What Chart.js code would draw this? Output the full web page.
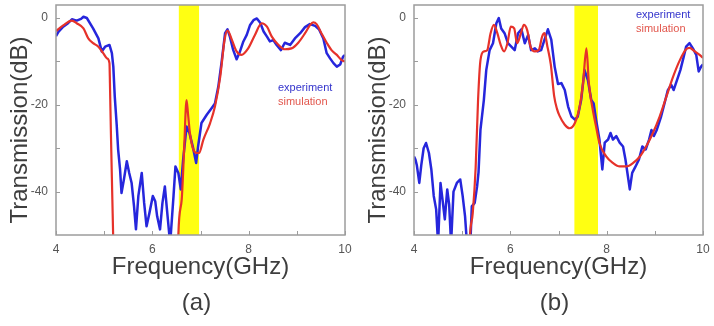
<!DOCTYPE html>
<html>
<head>
<meta charset="utf-8">
<script src="https://cdn.jsdelivr.net/npm/chart.js@4.4.1/dist/chart.umd.min.js"></script>
<style>
  html, body { margin: 0; padding: 0; background: #fff; }
  .panel { position: absolute; top: 0; width: 357px; height: 326px; }
</style>
</head>
<body>
<div class="panel" style="left:0"><canvas id="chartA" width="357" height="326"></canvas></div>
<div class="panel" style="left:357px"><canvas id="chartB" width="357" height="326"></canvas></div>
<script>
// axis ticks
const xTicks = [4, 6, 8, 10];
const xMinor = [5, 7, 9];
const yTicks = [0, -20, -40];
const yMinor = [-10, -30];
const xTitle = 'Frequency(GHz)';
const yTitle = 'Transmission(dB)';

// panel (a)
const aBand = [6.55, 6.97];
const aExpF = [4.0, 4.05, 4.15, 4.25, 4.33, 4.43, 4.52, 4.57, 4.64, 4.77, 4.88, 4.95, 5.02, 5.11, 5.16, 5.19, 5.22, 5.26, 5.29, 5.33, 5.36, 5.41, 5.47, 5.52, 5.57, 5.62, 5.66, 5.71, 5.78, 5.83, 5.88, 5.94, 6.01, 6.06, 6.10, 6.16, 6.21, 6.26, 6.31, 6.37, 6.44, 6.48, 6.54, 6.59, 6.64, 6.71, 6.77, 6.84, 6.91, 6.95, 7.02, 7.13, 7.23, 7.30, 7.37, 7.44, 7.51, 7.56, 7.61, 7.68, 7.75, 7.82, 7.89, 7.96, 8.03, 8.10, 8.17, 8.24, 8.31, 8.38, 8.44, 8.51, 8.58, 8.67, 8.75, 8.86, 8.96, 9.07, 9.17, 9.27, 9.38, 9.46, 9.55, 9.62, 9.69, 9.76, 9.83, 9.90, 9.96, 10.0];
const aExpT = [-4.2, -3.2, -2.0, -1.2, -0.3, -0.6, -0.2, 0.3, 0.0, -2.4, -4.7, -7.7, -6.6, -6.2, -8.1, -11.2, -18.1, -24.6, -30.3, -34.9, -40.3, -37.2, -33.0, -35.7, -38.0, -43.4, -48.7, -41.0, -35.7, -42.6, -48.0, -44.9, -41.0, -42.2, -45.7, -48.7, -42.6, -38.8, -44.9, -52, -41.0, -34.2, -35.7, -39.5, -32.6, -25.0, -26.5, -29.6, -33.4, -29.6, -24.2, -22.3, -20.8, -19.7, -15.8, -10.0, -3.5, -2.6, -4.3, -7.4, -9.5, -7.7, -5.4, -3.9, -1.6, -0.5, -0.1, -1.1, -3.1, -4.3, -5.4, -5.1, -6.2, -7.4, -5.7, -6.2, -4.7, -3.5, -2.1, -1.4, -1.8, -2.6, -4.7, -8.1, -9.3, -10.4, -11.2, -10.7, -8.9, -8.5];
const aSimF = [4.0, 4.15, 4.33, 4.43, 4.57, 4.67, 4.77, 4.88, 4.98, 5.06, 5.11, 5.12, 5.14, 5.17, 5.19, 5.22, 6.51, 6.54, 6.61, 6.66, 6.71, 6.74, 6.78, 6.85, 6.92, 6.97, 7.06, 7.20, 7.30, 7.41, 7.50, 7.56, 7.65, 7.75, 7.85, 7.99, 8.13, 8.27, 8.38, 8.48, 8.62, 8.75, 8.89, 9.03, 9.17, 9.27, 9.34, 9.41, 9.51, 9.62, 9.72, 9.83, 9.93, 10.0];
const aSimT = [-3.0, -1.7, -0.6, -1.2, -2.4, -4.7, -5.8, -6.6, -8.1, -9.3, -10.4, -15.0, -26.5, -41.8, -52, -70, -70, -50, -41.8, -30.3, -18.9, -22.0, -26.5, -30.3, -31.1, -31.1, -28.0, -24.2, -20.4, -13.5, -5.0, -2.9, -5.0, -7.7, -8.5, -7.0, -3.9, -1.2, -2.0, -4.3, -6.2, -7.2, -7.0, -5.7, -3.5, -1.7, -1.0, -1.4, -3.5, -5.7, -7.4, -8.5, -9.7, -10.0];

// panel (b)
const bBand = [7.33, 7.82];
const bExpF = [4.0, 4.03, 4.06, 4.11, 4.15, 4.20, 4.25, 4.31, 4.36, 4.41, 4.46, 4.50, 4.55, 4.60, 4.64, 4.69, 4.73, 4.77, 4.82, 4.89, 4.96, 5.01, 5.06, 5.10, 5.17, 5.20, 5.26, 5.31, 5.34, 5.38, 5.45, 5.50, 5.57, 5.64, 5.71, 5.76, 5.81, 5.88, 5.95, 6.02, 6.09, 6.16, 6.23, 6.30, 6.37, 6.43, 6.51, 6.57, 6.64, 6.71, 6.78, 6.85, 6.92, 6.99, 7.06, 7.13, 7.20, 7.27, 7.34, 7.40, 7.47, 7.54, 7.61, 7.68, 7.73, 7.78, 7.85, 7.91, 7.96, 8.03, 8.08, 8.13, 8.20, 8.27, 8.34, 8.39, 8.44, 8.48, 8.53, 8.60, 8.67, 8.74, 8.81, 8.88, 8.93, 8.98, 9.04, 9.13, 9.20, 9.27, 9.34, 9.39, 9.46, 9.53, 9.60, 9.65, 9.72, 9.79, 9.86, 9.91, 9.96, 10.0];
const bExpT = [-31.9, -32.6, -34.0, -38.0, -34.0, -30.0, -28.8, -31.1, -34.9, -41.0, -44.1, -52, -38.0, -42.6, -46.4, -39.5, -43.0, -52, -40.0, -38.0, -37.2, -41.0, -45.7, -52, -52, -43.4, -42.6, -38.8, -35.5, -25.7, -18.9, -12.0, -7.4, -5.8, -1.2, 0.0, -2.4, -3.5, -5.8, -6.6, -7.4, -3.5, -2.6, -5.8, -3.9, -7.4, -7.0, -7.7, -7.4, -5.0, -2.6, -5.0, -11.2, -15.2, -15.0, -16.6, -20.4, -22.7, -23.4, -22.7, -18.9, -12.0, -14.3, -18.9, -19.7, -23.4, -28.0, -34.9, -28.7, -28.0, -26.5, -28.0, -27.2, -28.7, -29.6, -32.6, -36.4, -39.5, -35.7, -34.2, -32.6, -29.6, -30.3, -28.0, -25.8, -27.2, -25.8, -22.7, -19.7, -16.6, -15.4, -16.6, -14.3, -12.0, -8.9, -6.6, -5.8, -7.0, -8.5, -12.3, -11.2, -10.7];
const bSimF = [5.10, 5.16, 5.22, 5.28, 5.33, 5.38, 5.45, 5.52, 5.59, 5.66, 5.73, 5.80, 5.87, 5.94, 6.01, 6.08, 6.14, 6.22, 6.28, 6.35, 6.42, 6.51, 6.59, 6.66, 6.71, 6.77, 6.84, 6.91, 6.97, 7.02, 7.13, 7.23, 7.34, 7.44, 7.51, 7.58, 7.63, 7.70, 7.78, 7.85, 7.99, 8.13, 8.27, 8.41, 8.55, 8.69, 8.82, 8.96, 9.10, 9.24, 9.38, 9.52, 9.65, 9.72, 9.83, 9.93, 10.0];
const bSimT = [-70, -50.5, -44.9, -34.5, -18.9, -9.7, -7.7, -7.4, -3.5, -1.6, -3.5, -6.2, -7.7, -5.8, -2.0, -2.4, -5.8, -3.5, -1.6, -2.8, -6.6, -7.7, -7.4, -4.3, -3.5, -6.6, -10.7, -18.0, -21.0, -22.5, -24.6, -25.4, -24.2, -20.4, -15.0, -7.0, -15.0, -20.4, -25.0, -28.8, -31.9, -33.4, -34.2, -34.2, -33.4, -31.9, -29.6, -26.5, -22.7, -18.1, -13.5, -9.7, -7.2, -6.9, -7.7, -8.5, -9.2];

const BLUE = '#2626dc';
const RED = '#e6322a';
const FONT = '"Liberation Sans", Arial, sans-serif';

const pts = (f, t) => f.map((v, i) => ({ x: v, y: t[i] }));

const panelDecor = {
  id: 'panelDecor',
  beforeDatasetsDraw(chart, args, opts) {
    const { ctx, chartArea: a, scales: { x } } = chart;
    const x0 = x.getPixelForValue(opts.band[0]);
    const x1 = x.getPixelForValue(opts.band[1]);
    ctx.save();
    ctx.fillStyle = '#ffff12';
    ctx.fillRect(x0, a.top, x1 - x0, a.bottom - a.top);
    ctx.restore();
  },
  afterDraw(chart, args, opts) {
    const { ctx, chartArea: a, scales: { x, y } } = chart;
    ctx.save();
    ctx.strokeStyle = '#9c9c9c';
    ctx.lineWidth = 1.5;
    ctx.strokeRect(a.left, a.top, a.right - a.left, a.bottom - a.top);
    // inward tick marks
    ctx.lineWidth = 1;
    ctx.beginPath();
    xTicks.concat(xMinor).forEach(v => {
      const px = Math.round(x.getPixelForValue(v)) + 0.5;
      ctx.moveTo(px, a.bottom);
      ctx.lineTo(px, a.bottom - 4);
    });
    yTicks.concat(yMinor).forEach(v => {
      const py = Math.round(y.getPixelForValue(v)) + 0.5;
      ctx.moveTo(a.left, py);
      ctx.lineTo(a.left + 4, py);
    });
    ctx.stroke();

    // axis titles and panel label
    ctx.fillStyle = '#3e3e3e';
    ctx.font = '24px ' + FONT;
    ctx.textAlign = 'center';
    ctx.textBaseline = 'middle';
    const cx = (a.left + a.right) / 2;
    ctx.fillText(xTitle, cx, a.bottom + 32);
    ctx.fillText(opts.label, cx - 4, a.bottom + 68);
    ctx.save();
    ctx.translate(a.left - 36, a.top + 125);
    ctx.rotate(-Math.PI / 2);
    ctx.fillText(yTitle, 0, 0);
    ctx.restore();

    // legend text
    ctx.font = '11px ' + FONT;
    ctx.textAlign = 'left';
    ctx.fillStyle = '#3434cc';
    ctx.fillText('experiment', a.left + 222, a.top + opts.legendTop);
    ctx.fillStyle = '#e2564c';
    ctx.fillText('simulation', a.left + 222, a.top + opts.legendTop + 13.5);
    ctx.restore();
  }
};

function makePanel(id, exp, sim, band, label, legendTop, yWidth, padRight) {
  return new Chart(document.getElementById(id), {
    type: 'line',
    data: {
      datasets: [
        { label: 'simulation', data: sim, borderColor: RED, borderWidth: 2.2, pointRadius: 0, cubicInterpolationMode: 'monotone' },
        { label: 'experiment', data: exp, borderColor: BLUE, borderWidth: 2.5, pointRadius: 0, tension: 0, borderJoinStyle: 'round' }
      ]
    },
    options: {
      responsive: false,
      animation: false,
      events: [],
      layout: { padding: { top: 5, right: padRight, left: 0, bottom: 0 } },
      plugins: {
        legend: { display: false },
        tooltip: { enabled: false },
        panelDecor: { band: band, label: label, legendTop: legendTop }
      },
      scales: {
        x: {
          type: 'linear',
          min: 4,
          max: 10,
          afterBuildTicks: s => { s.ticks = xTicks.map(v => ({ value: v })); },
          afterFit: s => { s.height = 91; s.paddingLeft = 0; s.paddingRight = 0; },
          grid: { display: false, drawTicks: false },
          border: { display: false },
          ticks: { color: '#555', font: { size: 12, family: FONT }, padding: 7, maxRotation: 0 }
        },
        y: {
          type: 'linear',
          min: -50,
          max: 3,
          afterBuildTicks: s => { s.ticks = yTicks.map(v => ({ value: v })); },
          afterFit: s => { s.width = yWidth; s.paddingTop = 0; s.paddingBottom = 0; },
          grid: { display: false, drawTicks: false },
          border: { display: false },
          ticks: { color: '#555', font: { size: 12, family: FONT }, padding: 8 }
        }
      }
    },
    plugins: [panelDecor]
  });
}

makePanel('chartA', pts(aExpF, aExpT), pts(aSimF, aSimT), aBand, '(a)', 83, 56, 12);
makePanel('chartB', pts(bExpF, bExpT), pts(bSimF, bSimT), bBand, '(b)', 10, 57, 11);
</script>
</body>
</html>
